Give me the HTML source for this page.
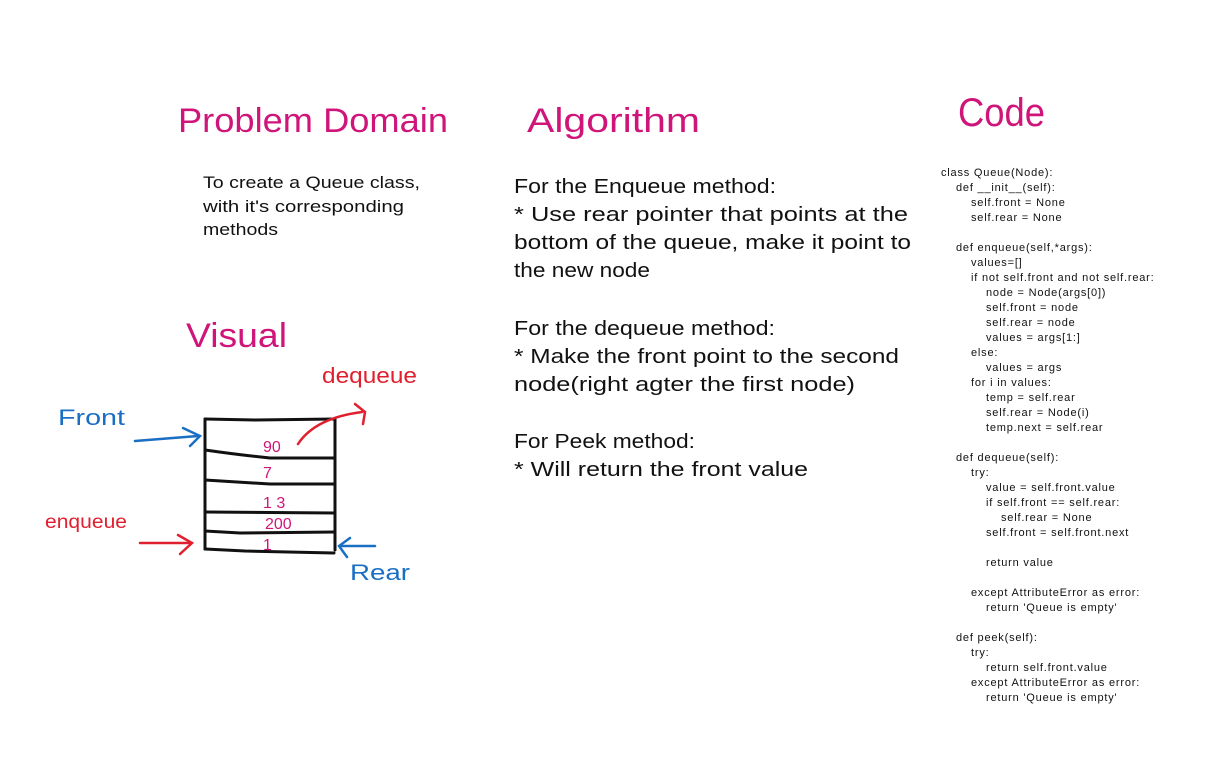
<!DOCTYPE html>
<html><head><meta charset="utf-8"><style>
html,body{margin:0;padding:0;background:#fff;}
svg{display:block;font-family:"Liberation Sans",sans-serif;}
.t{fill:#d0157a;}
.a{font-size:20px;fill:#111;}
.c{font-size:11px;fill:#111;letter-spacing:0.8px;}
</style></head><body>
<svg width="1223" height="760" viewBox="0 0 1223 760" xmlns="http://www.w3.org/2000/svg">
<rect width="1223" height="760" fill="#fff"/>
<text class="t" x="178" y="132" font-size="34" textLength="270" lengthAdjust="spacingAndGlyphs">Problem Domain</text>
<text class="t" x="527" y="132" font-size="34" textLength="173" lengthAdjust="spacingAndGlyphs">Algorithm</text>
<text class="t" x="958" y="126" font-size="40" textLength="87" lengthAdjust="spacingAndGlyphs">Code</text>
<text class="t" x="186" y="347" font-size="34" textLength="101" lengthAdjust="spacingAndGlyphs">Visual</text>

<g font-size="17" fill="#111">
<text x="203" y="188" textLength="217" lengthAdjust="spacingAndGlyphs">To create a Queue class,</text>
<text x="203" y="212" textLength="201" lengthAdjust="spacingAndGlyphs">with it's corresponding</text>
<text x="203" y="235" textLength="75" lengthAdjust="spacingAndGlyphs">methods</text>
</g>

<g class="a">
<text x="514" y="193" textLength="262" lengthAdjust="spacingAndGlyphs">For the Enqueue method:</text>
<text x="514" y="221" textLength="394" lengthAdjust="spacingAndGlyphs">* Use rear pointer that points at the</text>
<text x="514" y="249" textLength="397" lengthAdjust="spacingAndGlyphs">bottom of the queue, make it point to</text>
<text x="514" y="277" textLength="136" lengthAdjust="spacingAndGlyphs">the new node</text>
<text x="514" y="335" textLength="261" lengthAdjust="spacingAndGlyphs">For the dequeue method:</text>
<text x="514" y="363" textLength="385" lengthAdjust="spacingAndGlyphs">* Make the front point to the second</text>
<text x="514" y="391" textLength="341" lengthAdjust="spacingAndGlyphs">node(right agter the first node)</text>
<text x="514" y="448" textLength="181" lengthAdjust="spacingAndGlyphs">For Peek method:</text>
<text x="514" y="476" textLength="294" lengthAdjust="spacingAndGlyphs">* Will return the front value</text>
</g>

<g class="c">
<text x="941" y="176">class Queue(Node):</text>
<text x="956" y="191">def __init__(self):</text>
<text x="971" y="206">self.front = None</text>
<text x="971" y="221">self.rear = None</text>
<text x="956" y="251">def enqueue(self,*args):</text>
<text x="971" y="266">values=[]</text>
<text x="971" y="281">if not self.front and not self.rear:</text>
<text x="986" y="296">node = Node(args[0])</text>
<text x="986" y="311">self.front = node</text>
<text x="986" y="326">self.rear = node</text>
<text x="986" y="341">values = args[1:]</text>
<text x="971" y="356">else:</text>
<text x="986" y="371">values = args</text>
<text x="971" y="386">for i in values:</text>
<text x="986" y="401">temp = self.rear</text>
<text x="986" y="416">self.rear = Node(i)</text>
<text x="986" y="431">temp.next = self.rear</text>
<text x="956" y="461">def dequeue(self):</text>
<text x="971" y="476">try:</text>
<text x="986" y="491">value = self.front.value</text>
<text x="986" y="506">if self.front == self.rear:</text>
<text x="1001" y="521">self.rear = None</text>
<text x="986" y="536">self.front = self.front.next</text>
<text x="986" y="566">return value</text>
<text x="971" y="596">except AttributeError as error:</text>
<text x="986" y="611">return 'Queue is empty'</text>
<text x="956" y="641">def peek(self):</text>
<text x="971" y="656">try:</text>
<text x="986" y="671">return self.front.value</text>
<text x="971" y="686">except AttributeError as error:</text>
<text x="986" y="701">return 'Queue is empty'</text>
</g>

<!-- queue box -->
<g stroke="#111" stroke-width="3" fill="none" stroke-linecap="round">
<path d="M205 419 L255 420 L335 419"/>
<path d="M205 419 L205 549"/>
<path d="M335 419 L335 550"/>
<path d="M205 549 L245 551 L334 553"/>
<path d="M205 450 Q240 455 270 458 L335 458"/>
<path d="M205 480 L270 484 L335 484"/>
<path d="M205 512 L335 513"/>
<path d="M205 531 L240 533 L335 532"/>
</g>
<g fill="#d0157a" font-size="16">
<text x="263" y="452">90</text>
<text x="263" y="478">7</text>
<text x="263" y="508">1 3</text>
<text x="265" y="529">200</text>
<text x="263" y="550">1</text>
</g>
<!-- arrows -->
<g stroke="#1a6fc4" stroke-width="2.5" fill="none" stroke-linecap="round">
<path d="M135 441 L198 436"/>
<path d="M183 428 L200 436 L190 446"/>
<path d="M375 546 L340 546"/>
<path d="M350 538 L339 546 L347 557"/>
</g>
<g stroke="#e0202e" stroke-width="2.5" fill="none" stroke-linecap="round">
<path d="M140 543 L190 543"/>
<path d="M178 535 L192 543 L180 554"/>
<path d="M298 444 Q315 418 362 412"/>
<path d="M355 404 L365 412 L363 424"/>
</g>
<text x="58" y="425" font-size="22" fill="#1a6fc4" textLength="67" lengthAdjust="spacingAndGlyphs">Front</text>
<text x="350" y="580" font-size="22" fill="#1a6fc4" textLength="60" lengthAdjust="spacingAndGlyphs">Rear</text>
<text x="322" y="383" font-size="22" fill="#e0202e" textLength="95" lengthAdjust="spacingAndGlyphs">dequeue</text>
<text x="45" y="528" font-size="19" fill="#e0202e" textLength="82" lengthAdjust="spacingAndGlyphs">enqueue</text>
</svg>
</body></html>
